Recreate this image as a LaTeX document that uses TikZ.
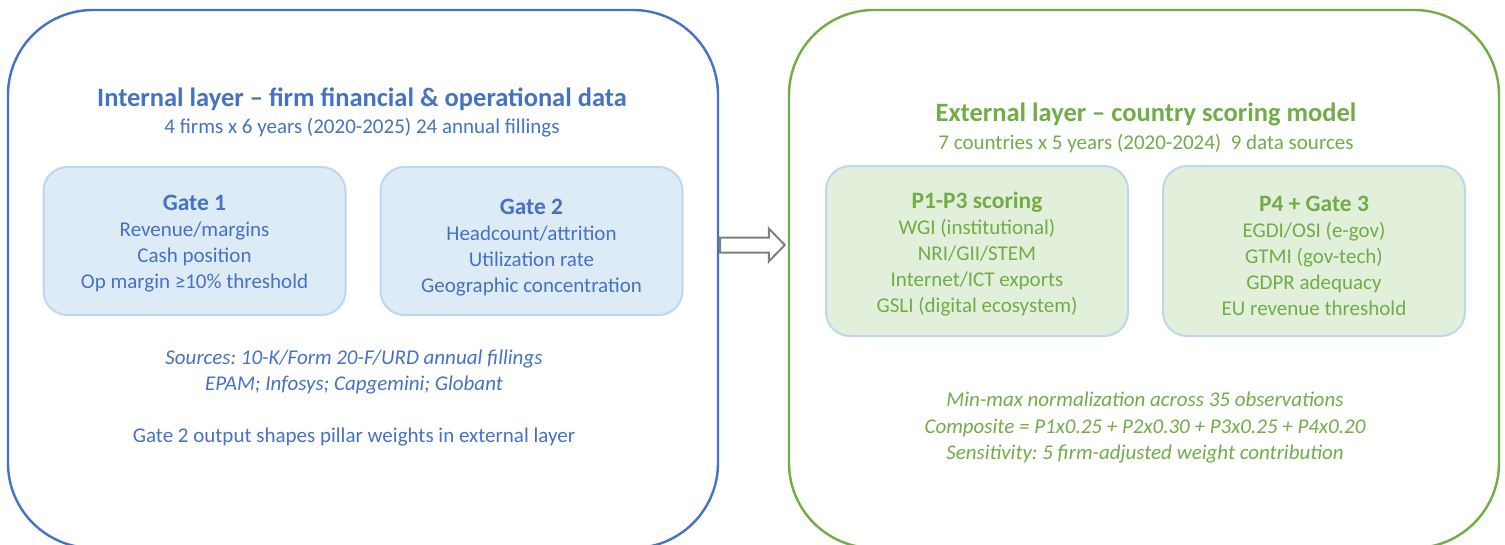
\documentclass[tikz,border=0pt]{standalone}
\usepackage{fontspec}
\setmainfont{Carlito}
\usepackage{tikz}
\usetikzlibrary{positioning,calc}
\definecolor{intBlue}{HTML}{4472C4}
\definecolor{extGreen}{HTML}{70AD47}
\definecolor{gateBlue}{HTML}{DDEBF7}
\definecolor{gateGreen}{HTML}{E2EFDA}
\definecolor{gateEdge}{HTML}{BDD7EE}
\definecolor{arrowGrey}{HTML}{7F7F7F}
\frenchspacing
\tikzset{
  layer/.style={draw=#1, line width=2.4pt, rounded corners=85pt, minimum width=710pt,
                minimum height=538pt, inner sep=0pt},
  gate/.style={draw=gateEdge, line width=2pt, rounded corners=24pt, fill=#1, minimum width=302pt,
               minimum height=148pt, inner sep=0pt},
  gatetext/.style={align=center, inner sep=0pt, text=#1, font=\fontsize{21}{26}\selectfont},
  head/.style={anchor=base, inner sep=0pt, font=\fontsize{26.5}{30}\selectfont\bfseries, text=#1},
  sub/.style={anchor=base, inner sep=0pt, font=\fontsize{21}{26}\selectfont, text=#1},
  note/.style={anchor=base, inner sep=0pt, font=\fontsize{21}{26}\selectfont\itshape, text=#1},
  handoff/.style={draw=arrowGrey, fill=white, line width=2pt, line join=miter}
}
\newcommand{\gatehead}[1]{{\fontsize{23.5}{26}\selectfont\bfseries #1}}

\begin{document}
\begin{tikzpicture}[x=1pt, y=-1pt]
    \useasboundingbox (0,0) rectangle (1505,544);
    \clip (0,0) rectangle (1505,544);

    %% Internal layer
    \node[layer=intBlue] (internal) at (363,279) {};
    \node[head=intBlue] (intTitle) at (362,106) {Internal layer -- firm financial \& operational data};
    \node[sub=intBlue] (intSub) at ($(intTitle.base)+(0,27)$) {4 firms x 6 years (2020-2025) 24 annual fillings};

    \node[gate=gateBlue] (gone) at (194.5,241) {};
    \node[gate=gateBlue, right=33pt of gone] (gtwo) {};
    \node[gatetext=intBlue] (goneText) at ($(gone)+(0,3)$)
         {\gatehead{Gate 1}\\Revenue/margins\\Cash position\\Op margin ≥10\% threshold};
    \node[gatetext=intBlue] (gtwoText) at ($(gtwo)+(0,7)$)
         {\gatehead{Gate 2}\\Headcount/attrition\\Utilization rate\\Geographic concentration};

    \node[note=intBlue] (intSrc) at (354,364) {Sources: 10-K/Form 20-F/URD annual fillings};
    \node[note=intBlue] (intFirms) at ($(intSrc.base)+(0,26)$) {EPAM; Infosys; Capgemini; Globant};
    \node[sub=intBlue] (intOut) at ($(intFirms.base)+(0,52)$) {Gate 2 output shapes pillar weights in external layer};

    %% External layer
    \node[layer=extGreen] (external) at (1144,279) {};
    \node[head=extGreen] (extTitle) at (1146,121) {External layer -- country scoring model};
    \node[sub=extGreen] (extSub) at ($(extTitle.base)+(0,28)$) {7 countries x 5 years (2020-2024)\ \ 9 data sources};

    \node[gate=gateGreen, minimum height=170pt] (pone) at (977,251) {};
    \node[gate=gateGreen, minimum height=170pt, right=33pt of pone] (pfour) {};
    \node[gatetext=extGreen] (poneText) at ($(pone)+(0,3.5)$)
         {\gatehead{P1-P3 scoring}\\WGI (institutional)\\NRI/GII/STEM\\Internet/ICT exports\\GSLI (digital ecosystem)};
    \node[gatetext=extGreen] (pfourText) at ($(pfour)+(0,5)$)
         {\gatehead{P4 + Gate 3}\\EGDI/OSI (e-gov)\\GTMI (gov-tech)\\GDPR adequacy\\EU revenue threshold};

    \node[note=extGreen] (extNorm) at (1145,406) {Min-max normalization across 35 observations};
    \node[note=extGreen] (extComp) at ($(extNorm.base)+(0,27)$) {Composite = P1x0.25 + P2x0.30 + P3x0.25 + P4x0.20};
    \node[note=extGreen] (extSens) at ($(extComp.base)+(0,26)$) {Sensitivity: 5 firm-adjusted weight contribution};

    %% hand-off arrow between the layers
    \coordinate (hand) at (753,245);
    \coordinate (tail) at (internal.east |- hand);
    \coordinate (tip) at (external.west |- hand);
    \draw[handoff] ($(tail)+(1,-7.5)$) -- ($(tip)+(-19,-7.5)$) -- ($(tip)+(-19,-16.5)$)
        -- ($(tip)+(-3,0)$) -- ($(tip)+(-19,16.5)$) -- ($(tip)+(-19,7.5)$)
        -- ($(tail)+(1,7.5)$) -- cycle;
\end{tikzpicture}
\end{document}
